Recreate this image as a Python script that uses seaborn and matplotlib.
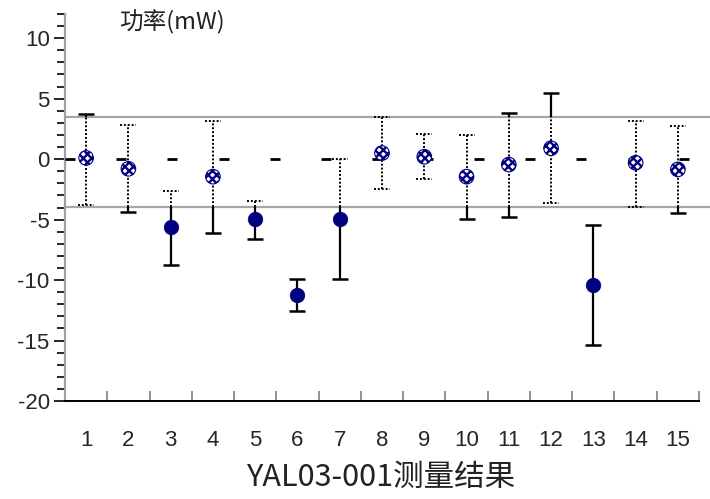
import numpy as np
import pandas as pd
import matplotlib
matplotlib.use("Agg")
import matplotlib.pyplot as plt
import seaborn as sns
from matplotlib.ticker import MultipleLocator, FixedLocator

# ---------------- data ----------------
categories = list(range(1, 16))
means = [0.1, -0.8, -5.6, -1.45, -4.95, -11.2, -4.95, 0.5, 0.2, -1.45,
         -0.45, 0.9, -10.4, -0.3, -0.85]
upper = [3.7, 2.8, -2.65, 3.15, -3.45, -9.9, 0.0, 3.45, 2.1, 2.0,
         3.8, 5.5, -5.45, 3.15, 2.7]
lower = [-3.8, -4.4, -8.75, -6.1, -6.6, -12.55, -9.9, -2.45, -1.65, -4.95,
         -4.75, -3.6, -15.4, -3.92, -4.45]
limit_hi = 3.5
limit_lo = -3.95
ref_x = [0.62, 1.83, 3.04, 4.25, 5.46, 6.67, 7.88, 9.09, 10.30, 11.51,
         12.72, 13.93, 15.14]
ref_y = [0] * len(ref_x)
y_ticks = [-20, -15, -10, -5, 0, 5, 10]
title_text = "功率(mW)"
xlabel_text = "YAL03-001测量结果"

# ---------------- style ----------------
sns.set_style("white")
plt.rcParams["font.family"] = ["Liberation Sans", "Noto Sans CJK SC", "DejaVu Sans"]
plt.rcParams["axes.unicode_minus"] = False
plt.rcParams["hatch.linewidth"] = 1.7

df = pd.DataFrame({"cat": categories, "mean": means, "hi": upper, "lo": lower})
df["inband"] = (df["mean"] >= limit_lo) & (df["mean"] <= limit_hi)

fig = plt.figure(figsize=(7.10, 4.99), dpi=100)
ax = fig.add_axes([65 / 710, 98 / 499, 634 / 710, 387 / 499])

navy = "#000080"
dotted = (0, (1.0, 1.0))
cap_hw = 0.19

# limit lines
for lim in (limit_hi, limit_lo):
    ax.axhline(lim, xmin=0, xmax=1.018, color="#a6a6a6", lw=1.6, clip_on=False, zorder=1)

# error bars split into dotted (inside band) and solid (outside band)
for _, r in df.iterrows():
    x, lo, hi = r["cat"], r["lo"], r["hi"]
    if lo < limit_lo:
        ax.vlines(x, lo, min(hi, limit_lo), color="black", lw=1.6, zorder=2)
    if hi > limit_hi:
        ax.vlines(x, max(lo, limit_hi), hi, color="black", lw=1.6, zorder=2)
    a, b = max(lo, limit_lo), min(hi, limit_hi)
    if b > a:
        ax.vlines(x, a, b, color="black", lw=1.4, linestyles=[dotted], zorder=2)
    for end in (lo, hi):
        if end < limit_lo or end > limit_hi:
            ax.hlines(end, x - cap_hw, x + cap_hw, color="black", lw=1.8, zorder=2)
        else:
            ax.hlines(end, x - cap_hw, x + cap_hw, color="black", lw=1.4,
                      linestyles=[dotted], zorder=2)

# zero reference dashes
sns.scatterplot(x=ref_x, y=ref_y, marker="_", s=55, color="black",
                linewidth=2.0, ax=ax, zorder=3, clip_on=False, legend=False)

# markers
inb = df[df["inband"]]
outb = df[~df["inband"]]
sns.scatterplot(data=outb, x="cat", y="mean", s=110, color=navy,
                edgecolor=navy, linewidth=0.5, ax=ax, zorder=4, legend=False)
sns.scatterplot(data=inb, x="cat", y="mean", s=110, facecolor="white",
                edgecolor=navy, hatch="xxxx", linewidth=0.8, ax=ax, zorder=4,
                legend=False)

# axes
ax.set_xlim(0.5, 15.5)
ax.set_ylim(-20, 12)
ax.set_yticks(y_ticks)
ax.set_yticklabels([str(t) for t in y_ticks])
ax.yaxis.set_minor_locator(MultipleLocator(1))
ax.set_xticks(categories)
ax.set_xticklabels([str(c) for c in categories])
ax.xaxis.set_minor_locator(FixedLocator(np.arange(1.5, 15.6, 1.0)))

ax.tick_params(axis="y", which="major", direction="out", length=8, width=1.2,
               color="black", labelsize=16, pad=3, left=True)
ax.tick_params(axis="y", which="minor", direction="out", length=6, width=1.2,
               color="black", left=True)
ax.tick_params(axis="x", which="major", length=0, labelsize=16, pad=21)
ax.tick_params(axis="x", which="minor", direction="in", length=7, width=1.2,
               color="#808080", bottom=True)

for s in ("top", "right"):
    ax.spines[s].set_visible(False)
ax.spines["left"].set_color("#a0a0a0")
ax.spines["left"].set_linewidth(1.6)
ax.spines["bottom"].set_color("black")
ax.spines["bottom"].set_linewidth(1.4)
ax.set_xlabel("")
ax.set_ylabel("")

fig.text(119 / 710, 1 - 22 / 499, title_text, fontsize=17, ha="left", va="center",
         family=["Noto Sans CJK SC", "DejaVu Sans"], color="#222222")
fig.text(382 / 710, 1 - 477 / 499, xlabel_text, fontsize=22, ha="center", va="center",
         family=["Noto Sans CJK SC", "DejaVu Sans"], color="#222222")

fig.savefig("out.png", dpi=100)
